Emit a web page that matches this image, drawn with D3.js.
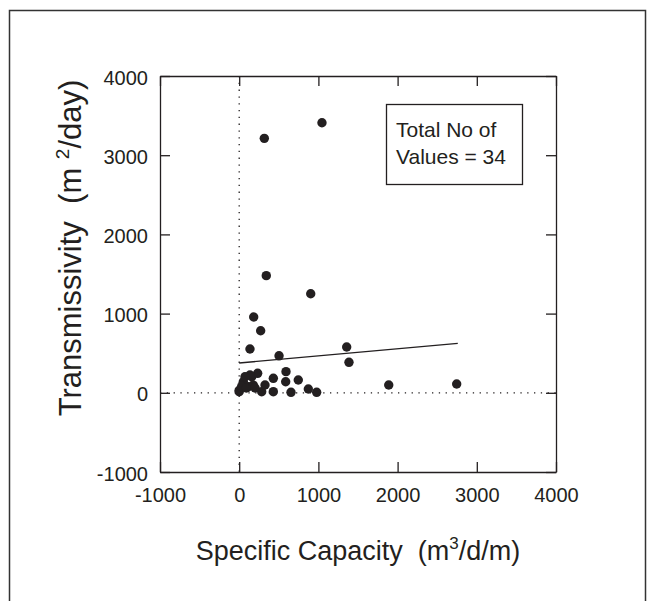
<!DOCTYPE html>
<html>
<head>
<meta charset="utf-8">
<script src="https://cdn.jsdelivr.net/npm/d3@7"></script>
<style>
  body { margin: 0; background: #fff; }
  text { font-family: "Liberation Sans", Arial, Helvetica, sans-serif; fill: #231f20; white-space: pre; }
</style>
</head>
<body>
<script>
// specific capacity (m3/d/m) and transmissivity (m2/day) for each well
let capacity = [1045, 317, 342, 903, 183, 271, 136, 503, 1357, 1386, 1888, 2746,
  591, 587, 746, 873, 978, 654, 431, 431, 284, 326, 233, 158, 178, 115, 52, 0,
  0, 30, 90, 136, 73, 200];
let transmissivity = [3410, 3213, 1479, 1251, 957, 784, 553, 467, 578, 385, 98, 111,
  267, 140, 162, 48, 6, 6, 183, 14, 14, 98, 246, 203, 98, 77, 140, 14,
  31, 80, 60, 225, 203, 60];

// regression line end points
let fitX = [0, 2760];
let fitY = [376, 624];

let xTicks = [-1000, 0, 1000, 2000, 3000, 4000];
let yTicks = [-1000, 0, 1000, 2000, 3000, 4000];

let width = 650, height = 601;
let plot = {left: 160, right: 556, top: 76, bottom: 472};

let svg = d3.select("body").append("svg")
  .attr("width", width)
  .attr("height", height);

// outer frame
svg.append("rect")
  .attr("x", 9.5).attr("y", 10.5)
  .attr("width", 636).attr("height", 600)
  .attr("fill", "none")
  .attr("stroke", "#333")
  .attr("stroke-width", 1.5);

let x = d3.scaleLinear().domain([-1000, 4000]).range([plot.left, plot.right]);
let y = d3.scaleLinear().domain([-1000, 4000]).range([plot.bottom, plot.top]);

let ink = "#231f20";
let fmt = d => String(d);

// zero lines (dotted)
svg.append("line")
  .attr("x1", x(0)).attr("x2", x(0))
  .attr("y1", plot.top).attr("y2", plot.bottom)
  .attr("stroke", ink).attr("stroke-width", 1.3)
  .attr("stroke-dasharray", "1.3,5.5");
svg.append("line")
  .attr("x1", plot.left).attr("x2", plot.right)
  .attr("y1", y(0)).attr("y2", y(0))
  .attr("stroke", ink).attr("stroke-width", 1.3)
  .attr("stroke-dasharray", "1.3,5.5");

// axes with inward ticks
let tickLen = 10;
svg.append("g")
  .attr("transform", "translate(0," + plot.bottom + ")")
  .call(d3.axisBottom(x).tickValues(xTicks).tickFormat(fmt).tickSizeInner(-tickLen).tickSizeOuter(0).tickPadding(16))
  .call(g => g.selectAll("text").attr("font-size", 20).attr("fill", ink));
svg.append("g")
  .attr("transform", "translate(0," + plot.top + ")")
  .call(d3.axisTop(x).tickValues(xTicks).tickSizeInner(-tickLen).tickSizeOuter(0).tickFormat(""));
svg.append("g")
  .attr("transform", "translate(" + plot.left + ",0)")
  .call(d3.axisLeft(y).tickValues(yTicks).tickFormat(fmt).tickSizeInner(-tickLen).tickSizeOuter(0).tickPadding(12))
  .call(g => g.selectAll("text").attr("font-size", 20).attr("fill", ink).attr("dy", "0.4em"));
svg.append("g")
  .attr("transform", "translate(" + plot.right + ",0)")
  .call(d3.axisRight(y).tickValues(yTicks).tickSizeInner(-tickLen).tickSizeOuter(0).tickFormat(""));

svg.selectAll(".domain").attr("stroke", ink).attr("stroke-width", 1.3);
svg.selectAll(".tick line").attr("stroke", ink).attr("stroke-width", 1.3);

// regression line
svg.append("line")
  .attr("x1", x(fitX[0])).attr("y1", y(fitY[0]))
  .attr("x2", x(fitX[1])).attr("y2", y(fitY[1]))
  .attr("stroke", ink).attr("stroke-width", 1.3);

// data points
svg.append("g").selectAll("circle")
  .data(d3.zip(capacity, transmissivity))
  .join("circle")
  .attr("cx", d => x(d[0]))
  .attr("cy", d => y(d[1]))
  .attr("r", 4.7)
  .attr("fill", ink);

// note box
svg.append("rect")
  .attr("x", 386.5).attr("y", 104.5)
  .attr("width", 136).attr("height", 80)
  .attr("fill", "#fff").attr("stroke", ink).attr("stroke-width", 1.3);
svg.append("text").attr("x", 396).attr("y", 137).attr("font-size", 21).text("Total No of");
svg.append("text").attr("x", 396).attr("y", 164).attr("font-size", 21).text("Values = 34");

// axis titles
let xt = svg.append("text")
  .attr("x", (plot.left + plot.right) / 2)
  .attr("y", 560)
  .attr("text-anchor", "middle")
  .attr("font-size", 27);
xt.append("tspan").text("Specific Capacity  (m");
xt.append("tspan").attr("font-size", 17).attr("dy", -11).text("3");
xt.append("tspan").attr("dy", 11).text("/d/m)");

let yt = svg.append("text")
  .attr("transform", "translate(81,248) rotate(-90)")
  .attr("text-anchor", "middle")
  .attr("font-size", 31);
yt.append("tspan").text("Transmissivity  (m ");
yt.append("tspan").attr("font-size", 19).attr("dy", -12).text("2");
yt.append("tspan").attr("dy", 12).text("/day)");
</script>
</body>
</html>
